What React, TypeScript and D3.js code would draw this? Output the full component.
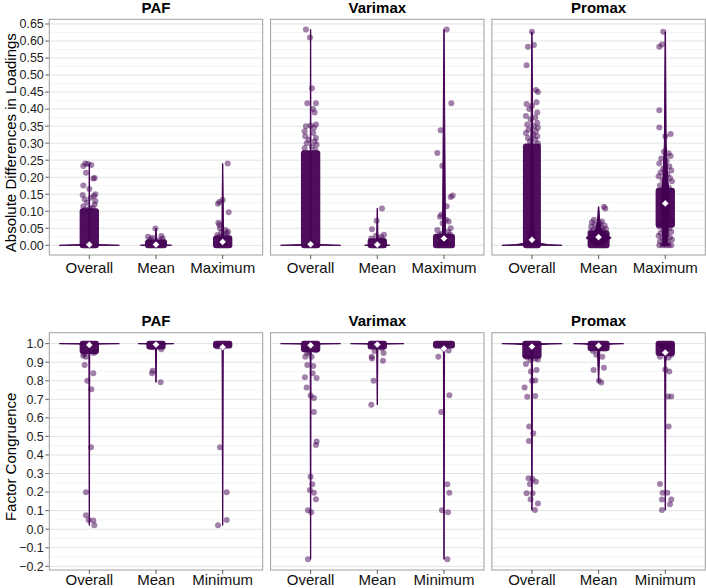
import React from "react";
import * as d3 from "d3";

const METHODS = ["PAF", "Varimax", "Promax"];
const TOP_CATS = ["Overall", "Mean", "Maximum"];
const BOTTOM_CATS = ["Overall", "Mean", "Minimum"];
const TOP_TICKS = [0, 0.05, 0.1, 0.15, 0.2, 0.25, 0.3, 0.35, 0.4, 0.45, 0.5, 0.55, 0.6, 0.65];
const TOP_MINOR = [0.025, 0.075, 0.125, 0.175, 0.225, 0.275, 0.325, 0.375, 0.425, 0.475, 0.525, 0.575, 0.625];
const BOTTOM_TICKS = [-0.2, -0.1, 0, 0.1, 0.2, 0.3, 0.4, 0.5, 0.6, 0.7, 0.8, 0.9, 1.0];
const BOTTOM_MINOR = [-0.15, -0.05, 0.05, 0.15, 0.25, 0.35, 0.45, 0.55, 0.65, 0.75, 0.85, 0.95];

type P = [number, number];
type Band = [number, number, number];

// ---------- Top row: absolute differences in loadings ----------
// violin profiles: [value, relative half width]
const pafOverallTopViolin: P[] = [[0, 1], [0.003, 0.03], [0.01, 0.012], [0.24, 0.005]];
const pafMeanTopViolin: P[] = [[0, 0.52], [0.003, 0.08], [0.01, 0.025], [0.05, 0.005]];
const pafMaxTopViolin: P[] = [[0, 0.2], [0.01, 0.1], [0.03, 0.03], [0.24, 0.005]];
const varOverallTopViolin: P[] = [[0, 1], [0.003, 0.04], [0.01, 0.015], [0.634, 0.005]];
const varMeanTopViolin: P[] = [[0, 0.42], [0.003, 0.08], [0.01, 0.025], [0.109, 0.005]];
const varMaxTopViolin: P[] = [[0, 0.25], [0.01, 0.15], [0.03, 0.05], [0.634, 0.005]];
const proOverallTopViolin: P[] = [[0, 1], [0.002, 0.55], [0.005, 0.32], [0.01, 0.2], [0.02, 0.12], [0.05, 0.05], [0.627, 0.005]];
const proMeanTopViolin: P[] = [[0, 0.15], [0.015, 0.3], [0.022, 0.42], [0.03, 0.25], [0.05, 0.08], [0.08, 0.03], [0.113, 0.008]];
const proMaxTopViolin: P[] = [[0, 0.15], [0.005, 0.08], [0.05, 0.1], [0.12, 0.15], [0.2, 0.08], [0.3, 0.03], [0.627, 0.008]];

// dense point clouds: [low, high, jitter half width]
const pafOverallTopBand: Band = [0, 0.1, 0.1];
const pafMeanTopBand: Band = [0, 0.008, 0.12];
const pafMaxTopBand: Band = [0, 0.02, 0.1];
const varOverallTopBand: Band = [0, 0.27, 0.1];
const varMeanTopBand: Band = [0, 0.012, 0.1];
const varMaxTopBand: Band = [0, 0.025, 0.12];
const proOverallTopBand: Band = [0, 0.29, 0.09];
const proMeanTopBand: Band = [0, 0.035, 0.12];
const proMaxTopBand: Band = [0.06, 0.16, 0.1];

// individual points: [value, jitter]
const pafOverallTopPts: P[] = [[0.24, -0.06], [0.239, -0.02], [0.236, 0.03], [0.233, -0.09], [0.213, -0.05], [0.198, 0.08], [0.196, 0.06], [0.176, -0.09], [0.165, 0.0], [0.15, 0.09], [0.148, -0.1], [0.145, 0.07], [0.14, 0.02], [0.135, -0.07], [0.13, 0.09], [0.125, -0.03], [0.12, 0.08], [0.115, -0.09], [0.11, 0.05], [0.105, -0.06], [0.108, 0.01]];
const pafMeanTopPts: P[] = [[0.049, -0.01], [0.027, 0.08], [0.025, -0.12], [0.02, 0.1], [0.018, -0.08], [0.015, 0.05], [0.012, -0.1], [0.022, -0.05], [0.01, 0.12]];
const pafMaxTopPts: P[] = [[0.24, 0.075], [0.133, 0.0], [0.127, -0.05], [0.122, -0.07], [0.097, 0.09], [0.066, -0.065], [0.06, -0.05], [0.05, -0.04], [0.045, 0.04], [0.04, 0.08], [0.038, -0.02], [0.035, 0.06], [0.03, -0.08], [0.028, 0.03], [0.025, -0.05], [0.022, 0.09]];
const varOverallTopPts: P[] = [[0.634, -0.07], [0.61, -0.01], [0.461, 0.02], [0.417, -0.05], [0.417, 0.08], [0.4, 0.035], [0.39, 0.06], [0.35, -0.07], [0.352, 0.0], [0.355, 0.08], [0.345, 0.05], [0.335, -0.09], [0.33, 0.04], [0.32, -0.08], [0.315, 0.08], [0.31, -0.03], [0.305, 0.06], [0.3, -0.06], [0.295, 0.09], [0.29, 0.02], [0.285, -0.09], [0.28, 0.07]];
const varMeanTopPts: P[] = [[0.108, 0.07], [0.072, -0.01], [0.047, -0.08], [0.031, 0.1], [0.028, -0.02], [0.025, 0.06], [0.02, -0.09], [0.018, 0.03], [0.015, 0.09]];
const varMaxTopPts: P[] = [[0.634, 0.04], [0.417, 0.11], [0.338, -0.05], [0.271, -0.1], [0.234, -0.025], [0.146, 0.13], [0.142, 0.1], [0.115, 0.04], [0.09, -0.04], [0.084, -0.06], [0.075, 0.03], [0.07, 0.07], [0.065, -0.02], [0.05, 0.1], [0.045, -0.1], [0.04, 0.06], [0.035, -0.03], [0.032, 0.09], [0.03, -0.07]];
const proOverallTopPts: P[] = [[0.627, 0.0], [0.588, 0.03], [0.583, -0.06], [0.529, -0.08], [0.456, 0.06], [0.45, 0.09], [0.42, 0.07], [0.415, -0.08], [0.41, 0.0], [0.4, -0.04], [0.39, 0.08], [0.38, -0.09], [0.375, 0.05], [0.37, -0.02], [0.36, 0.08], [0.355, -0.07], [0.35, 0.03], [0.345, 0.09], [0.34, -0.05], [0.335, 0.06], [0.33, -0.09], [0.325, 0.02], [0.32, 0.08], [0.315, -0.06], [0.31, 0.05], [0.305, -0.03], [0.3, 0.09]];
const proMeanTopPts: P[] = [[0.113, 0.08], [0.108, 0.1], [0.075, -0.07], [0.07, 0.05], [0.068, -0.1], [0.065, 0.02], [0.06, -0.05], [0.058, 0.09], [0.055, -0.11], [0.052, 0.04], [0.05, -0.02], [0.048, 0.11], [0.045, -0.08], [0.043, 0.07], [0.04, -0.12], [0.04, 0.0]];
const proMaxTopPts: P[] = [[0.627, -0.03], [0.59, -0.05], [0.583, -0.09], [0.397, -0.09], [0.346, -0.09], [0.327, 0.08], [0.32, 0.0], [0.275, -0.02], [0.27, 0.05], [0.262, 0.08], [0.255, -0.06], [0.248, 0.02], [0.24, -0.09], [0.232, 0.06], [0.225, -0.03], [0.22, 0.09], [0.214, -0.07], [0.208, 0.03], [0.203, -0.1], [0.198, 0.07], [0.192, -0.04], [0.188, 0.1], [0.182, 0.0], [0.176, -0.08], [0.17, 0.05], [0.166, -0.02], [0.16, 0.09], [0.07, 0.1], [0.065, -0.06], [0.06, 0.02], [0.055, -0.09], [0.05, 0.06], [0.045, -0.03], [0.04, 0.09], [0.036, -0.07], [0.032, 0.02], [0.028, -0.1], [0.024, 0.07], [0.02, -0.04], [0.016, 0.1], [0.012, -0.08], [0.008, 0.04], [0.004, -0.02], [0.0, -0.09], [0.0, -0.04], [0.0, 0.01], [0.0, 0.05], [0.0, 0.09]];

const topMeans = [[0.002, 0.002, 0.01], [0.003, 0.002, 0.02], [0.016, 0.024, 0.123]];

// ---------- Bottom row: factor congruence ----------
const pafOverallBotViolin: P[] = [[1, 1], [0.997, 0.04], [0.99, 0.015], [0.021, 0.005]];
const pafMeanBotViolin: P[] = [[1, 0.6], [0.997, 0.08], [0.99, 0.02], [0.792, 0.005]];
const pafMinBotViolin: P[] = [[1, 0.3], [0.995, 0.1], [0.98, 0.02], [0.021, 0.005]];
const varOverallBotViolin: P[] = [[1, 1], [0.997, 0.04], [0.99, 0.015], [-0.162, 0.005]];
const varMeanBotViolin: P[] = [[1, 0.89], [0.997, 0.08], [0.99, 0.02], [0.67, 0.005]];
const varMinBotViolin: P[] = [[1, 0.3], [0.995, 0.1], [0.98, 0.02], [-0.162, 0.005]];
const proOverallBotViolin: P[] = [[1, 1], [0.998, 0.6], [0.995, 0.3], [0.99, 0.15], [0.97, 0.05], [0.9, 0.02], [0.103, 0.005]];
const proMeanBotViolin: P[] = [[1, 0.83], [0.998, 0.5], [0.995, 0.25], [0.99, 0.1], [0.97, 0.04], [0.795, 0.005]];
const proMinBotViolin: P[] = [[1, 0.3], [0.99, 0.25], [0.97, 0.12], [0.95, 0.05], [0.9, 0.02], [0.103, 0.005]];

const pafOverallBotBand: Band = [0.96, 1, 0.1];
const pafMeanBotBand: Band = [0.985, 1, 0.1];
const pafMinBotBand: Band = [0.99, 1, 0.1];
const varOverallBotBand: Band = [0.97, 1, 0.1];
const varMeanBotBand: Band = [0.985, 1, 0.1];
const varMinBotBand: Band = [0.99, 1, 0.12];
const proOverallBotBand: Band = [0.935, 1, 0.1];
const proMeanBotBand: Band = [0.975, 1, 0.12];
const proMinBotBand: Band = [0.95, 1, 0.1];

const pafOverallBotPts: P[] = [[0.955, 0.09], [0.95, 0.06], [0.945, -0.08], [0.935, -0.09], [0.93, -0.05], [0.885, -0.07], [0.84, 0.06], [0.8, -0.03], [0.754, 0.03], [0.441, 0.025], [0.199, -0.05], [0.075, -0.05], [0.05, -0.01], [0.047, 0.06], [0.021, 0.075]];
const pafMeanBotPts: P[] = [[0.97, 0.08], [0.98, -0.06], [0.854, -0.05], [0.84, -0.06], [0.792, 0.07]];
const pafMinBotPts: P[] = [[0.985, -0.08], [0.441, -0.04], [0.199, 0.06], [0.05, 0.06], [0.021, -0.07]];
const varOverallBotPts: P[] = [[0.975, -0.06], [0.965, 0.08], [0.955, -0.02], [0.948, -0.05], [0.93, -0.08], [0.93, 0.014], [0.885, -0.05], [0.88, 0.04], [0.84, 0.03], [0.819, -0.085], [0.815, 0.09], [0.763, -0.06], [0.72, 0.0], [0.707, 0.05], [0.632, 0.05], [0.472, 0.09], [0.454, 0.08], [0.283, 0.0], [0.242, 0.025], [0.211, -0.01], [0.197, 0.05], [0.161, 0.08], [0.102, -0.04], [0.091, 0.01], [-0.162, -0.04]];
const varMeanBotPts: P[] = [[0.975, 0.07], [0.96, -0.04], [0.95, 0.094], [0.93, -0.085], [0.92, -0.08], [0.908, 0.085], [0.8, -0.055], [0.67, -0.09]];
const varMinBotPts: P[] = [[0.963, 0.07], [0.93, -0.085], [0.722, 0.08], [0.632, -0.04], [0.242, 0.05], [0.197, 0.08], [0.102, -0.03], [0.091, 0.06], [-0.162, 0.05]];
const proOverallBotPts: P[] = [[0.925, -0.07], [0.92, 0.05], [0.915, 0.09], [0.91, -0.02], [0.89, -0.09], [0.858, 0.07], [0.85, -0.015], [0.8, 0.0], [0.802, 0.05], [0.763, -0.11], [0.718, 0.05], [0.714, -0.07], [0.553, -0.04], [0.517, 0.02], [0.475, -0.045], [0.274, -0.05], [0.27, 0.01], [0.256, 0.06], [0.244, -0.03], [0.194, -0.08], [0.194, 0.01], [0.161, -0.02], [0.139, 0.09], [0.103, 0.045]];
const proMeanBotPts: P[] = [[0.975, 0.08], [0.96, -0.085], [0.94, -0.035], [0.93, 0.055], [0.87, 0.08], [0.858, -0.075], [0.8, 0.005], [0.79, 0.04]];
const proMinBotPts: P[] = [[0.94, 0.09], [0.93, -0.08], [0.925, 0.05], [0.86, 0.0], [0.85, 0.06], [0.715, 0.04], [0.715, 0.09], [0.553, 0.05], [0.244, -0.08], [0.197, -0.04], [0.197, 0.03], [0.16, -0.05], [0.16, 0.09], [0.135, 0.07], [0.103, -0.05]];

const bottomMeans = [[0.993, 0.995, 0.981], [0.991, 0.995, 0.973], [0.984, 0.989, 0.952]];

type Group = { violin: P[]; band: Band; points: P[]; mean: number };

const mk = (violin: P[], band: Band, points: P[], mean: number): Group => ({ violin, band, points, mean });

const topGroups: Group[][] = [
  [mk(pafOverallTopViolin, pafOverallTopBand, pafOverallTopPts, topMeans[0][0]), mk(pafMeanTopViolin, pafMeanTopBand, pafMeanTopPts, topMeans[0][1]), mk(pafMaxTopViolin, pafMaxTopBand, pafMaxTopPts, topMeans[0][2])],
  [mk(varOverallTopViolin, varOverallTopBand, varOverallTopPts, topMeans[1][0]), mk(varMeanTopViolin, varMeanTopBand, varMeanTopPts, topMeans[1][1]), mk(varMaxTopViolin, varMaxTopBand, varMaxTopPts, topMeans[1][2])],
  [mk(proOverallTopViolin, proOverallTopBand, proOverallTopPts, topMeans[2][0]), mk(proMeanTopViolin, proMeanTopBand, proMeanTopPts, topMeans[2][1]), mk(proMaxTopViolin, proMaxTopBand, proMaxTopPts, topMeans[2][2])],
];
const bottomGroups: Group[][] = [
  [mk(pafOverallBotViolin, pafOverallBotBand, pafOverallBotPts, bottomMeans[0][0]), mk(pafMeanBotViolin, pafMeanBotBand, pafMeanBotPts, bottomMeans[0][1]), mk(pafMinBotViolin, pafMinBotBand, pafMinBotPts, bottomMeans[0][2])],
  [mk(varOverallBotViolin, varOverallBotBand, varOverallBotPts, bottomMeans[1][0]), mk(varMeanBotViolin, varMeanBotBand, varMeanBotPts, bottomMeans[1][1]), mk(varMinBotViolin, varMinBotBand, varMinBotPts, bottomMeans[1][2])],
  [mk(proOverallBotViolin, proOverallBotBand, proOverallBotPts, bottomMeans[2][0]), mk(proMeanBotViolin, proMeanBotBand, proMeanBotPts, bottomMeans[2][1]), mk(proMinBotViolin, proMinBotBand, proMinBotPts, bottomMeans[2][2])],
];

const PURPLE = "#440154";
const FONT = "'Liberation Sans', Arial, Helvetica, sans-serif";
const W = 706, H = 588;

function Row(props: {
  cats: string[]; groups: Group[][]; y: d3.ScaleLinear<number, number>; ticks: number[]; minor: number[];
  fmt: (v: number) => string; top: number; bottom: number; title: string; titleY: number; labelY: number;
}) {
  const { cats, groups, y, ticks, minor, fmt, top, bottom, title, titleY, labelY } = props;
  const facet = d3.scaleBand<string>().domain(METHODS).range([49.3, 705.3]).paddingInner(0.0357);
  const bw = facet.bandwidth();
  const xIn = d3.scalePoint<string>().domain(cats).range([0, bw]).padding(0.6);
  const step = xIn.step();
  const r = 3;
  const left0 = facet(METHODS[0])!;
  return (
    <g>
      <text x={7} y={(top + bottom) / 2} transform={`rotate(-90, 12.5, ${(top + bottom) / 2})`} textAnchor="middle" fontSize={15} fill="#000" dominantBaseline="middle" style={{ fontFamily: FONT }}>
        {title}
      </text>
      {ticks.map((t) => (
        <g key={"yt" + t}>
          <line x1={left0 - 4} x2={left0} y1={y(t)} y2={y(t)} stroke="#333" strokeWidth={0.8} />
          <text x={left0 - 5.5} y={y(t)} dy="0.35em" textAnchor="end" fontSize={12.5} fill="#222" style={{ fontFamily: FONT }}>
            {fmt(t)}
          </text>
        </g>
      ))}
      {METHODS.map((m, mi) => {
        const x0 = facet(m)!;
        const clipId = `clip-${title.replace(/\s/g, "")}-${mi}`;
        return (
          <g key={m}>
            <clipPath id={clipId}>
              <rect x={x0} y={top} width={bw} height={bottom - top} />
            </clipPath>
            <rect x={x0} y={top} width={bw} height={bottom - top} fill="#fff" />
            {minor.map((t) => (
              <line key={"mi" + t} x1={x0} x2={x0 + bw} y1={y(t)} y2={y(t)} stroke="#ededed" strokeWidth={0.6} />
            ))}
            {ticks.map((t) => (
              <line key={"ma" + t} x1={x0} x2={x0 + bw} y1={y(t)} y2={y(t)} stroke="#e3e3e3" strokeWidth={1} />
            ))}
            <text x={x0 + bw / 2} y={titleY} textAnchor="middle" fontSize={15} fontWeight="bold" fill="#000" style={{ fontFamily: FONT }}>
              {m}
            </text>
            <g clipPath={`url(#${clipId})`}>
              {cats.map((c, ci) => {
                const g = groups[mi][ci];
                const cx = x0 + xIn(c)!;
                const hw = 0.45 * step;
                const area = d3
                  .area<P>()
                  .y((d) => y(d[0]))
                  .x0((d) => cx - d[1] * hw)
                  .x1((d) => cx + d[1] * hw)
                  .curve(d3.curveLinear);
                const [lo, hi, jw] = g.band;
                const half = jw * step + r;
                return (
                  <g key={c}>
                    <path d={area(g.violin) || ""} fill={PURPLE} stroke={PURPLE} strokeWidth={1} strokeLinejoin="round" />
                    <rect x={cx - half} width={half * 2} y={y(hi) - r} height={y(lo) - y(hi) + 2 * r} rx={r} ry={r} fill={PURPLE} fillOpacity={0.95} />
                    {g.points.map((p, pi) => (
                      <circle key={pi} cx={cx + p[1] * step} cy={y(p[0])} r={r} fill={PURPLE} fillOpacity={0.5} />
                    ))}
                    <path
                      d={`M${cx},${y(g.mean) - 3.6}L${cx + 3.6},${y(g.mean)}L${cx},${y(g.mean) + 3.6}L${cx - 3.6},${y(g.mean)}Z`}
                      fill="#fff"
                      stroke={PURPLE}
                      strokeWidth={0.6}
                    />
                  </g>
                );
              })}
            </g>
            <rect x={x0} y={top} width={bw} height={bottom - top} fill="none" stroke="#9e9e9e" strokeWidth={1} />
            {cats.map((c) => {
              const cx = x0 + xIn(c)!;
              return (
                <g key={"xt" + c}>
                  <line x1={cx} x2={cx} y1={bottom} y2={bottom + 4} stroke="#333" strokeWidth={0.8} />
                  <text x={cx} y={labelY} textAnchor="middle" fontSize={15} fill="#111" style={{ fontFamily: FONT }}>
                    {c}
                  </text>
                </g>
              );
            })}
          </g>
        );
      })}
    </g>
  );
}

export default function App() {
  const yTop = d3.scaleLinear().domain([-0.0285, 0.6638]).range([255, 19.3]);
  const yBot = d3.scaleLinear().domain([-0.22, 1.059]).range([570, 332.7]);
  return (
    <svg width={W} height={H} viewBox={`0 0 ${W} ${H}`} style={{ position: "absolute", left: 0, top: 0, background: "#fff" }}>
      <rect width={W} height={H} fill="#fff" />
      <Row
        cats={TOP_CATS}
        groups={topGroups}
        y={yTop}
        ticks={TOP_TICKS}
        minor={TOP_MINOR}
        fmt={d3.format(".2f")}
        top={19.3}
        bottom={255}
        title="Absolute Differences in Loadings"
        titleY={12.5}
        labelY={272.7}
      />
      <Row
        cats={BOTTOM_CATS}
        groups={bottomGroups}
        y={yBot}
        ticks={BOTTOM_TICKS}
        minor={BOTTOM_MINOR}
        fmt={d3.format(".1f")}
        top={332.7}
        bottom={570}
        title="Factor Congruence"
        titleY={326}
        labelY={584.5}
      />
    </svg>
  );
}
